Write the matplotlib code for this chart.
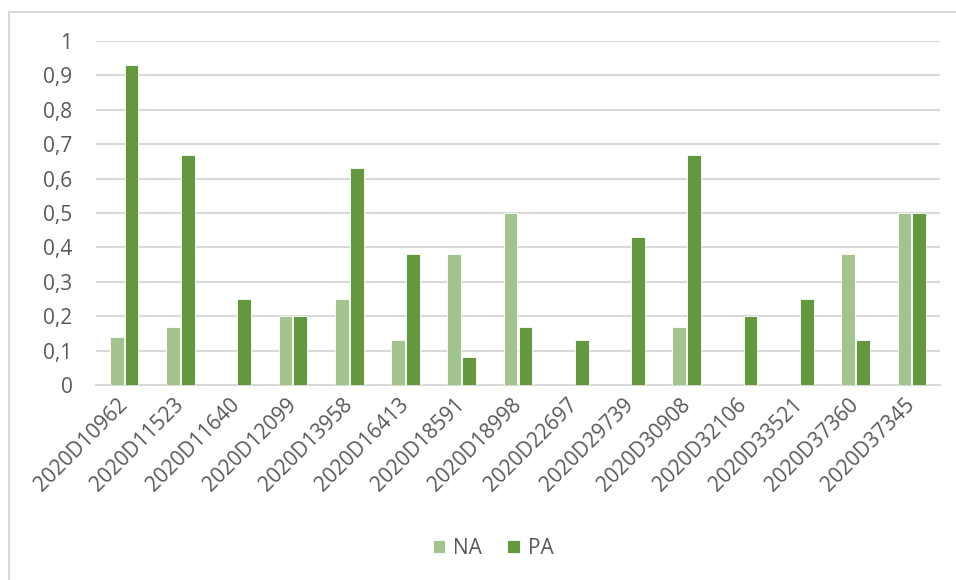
import numpy as np
import matplotlib.pyplot as plt
from matplotlib.lines import Line2D

labels = ['2020D10962', '2020D11523', '2020D11640', '2020D12099', '2020D13958',
          '2020D16413', '2020D18591', '2020D18998', '2020D22697', '2020D29739',
          '2020D30908', '2020D32106', '2020D33521', '2020D37360', '2020D37345']
na = [0.14, 0.17, 0, 0.2, 0.25, 0.13, 0.38, 0.5, 0, 0, 0.17, 0, 0, 0.38, 0.5]
pa = [0.93, 0.67, 0.25, 0.2, 0.63, 0.38, 0.08, 0.17, 0.13, 0.43, 0.67, 0.2, 0.25, 0.13, 0.5]

plt.rcParams['font.family'] = ['Open Sans', 'DejaVu Sans']
txt = '#595959'
c_na = '#A3C48F'
c_pa = '#64983F'
fs = 15

fig = plt.figure(figsize=(9.56, 5.8), dpi=100)
ax = fig.add_axes([96/956, 1-385/580, (940-96)/956, (385-41)/580])

x = np.arange(len(labels))
w = 0.245
ax.bar(x - w/2 - 0.01, na, w, color=c_na, edgecolor='white', linewidth=0.6, label='NA', zorder=3)
ax.bar(x + w/2 + 0.01, pa, w, color=c_pa, edgecolor='white', linewidth=0.6, label='PA', zorder=3)

ax.set_xlim(-0.5, len(labels) - 0.5)
ax.set_ylim(0, 1)
ticks = np.arange(0, 1.01, 0.1)
ax.set_yticks(ticks)
ax.set_yticklabels(['0'] + [('%.1f' % t).replace('.', ',') for t in ticks[1:-1]] + ['1'])
ax.set_xticks(x)
ax.set_xticklabels(labels, rotation=45, ha='right', va='center', rotation_mode='anchor')
ax.tick_params(axis='both', length=0, colors=txt, labelsize=fs)
ax.tick_params(axis='y', pad=17)
ax.tick_params(axis='x', pad=12)
ax.grid(axis='y', color='#D9D9D9', linewidth=1.5, zorder=0)
for s in ['top', 'right', 'left']:
    ax.spines[s].set_visible(False)
ax.spines['bottom'].set_color('#D9D9D9')
ax.spines['bottom'].set_linewidth(1.5)

fig.legend(loc='center', bbox_to_anchor=(0.516, 1-548/580), ncol=2, frameon=False,
           fontsize=fs, labelcolor=txt, handlelength=0.6, handleheight=0.6,
           handletextpad=0.4, columnspacing=1.2)

# outer chart border (left and top edges visible in the crop)
fig.add_artist(Line2D([9/956, 9/956], [0, 1-12/580], transform=fig.transFigure, color='#D9D9D9', linewidth=1.5))
fig.add_artist(Line2D([9/956, 1], [1-12/580, 1-12/580], transform=fig.transFigure, color='#D9D9D9', linewidth=1.5))

fig.savefig('out.png', dpi=100)
